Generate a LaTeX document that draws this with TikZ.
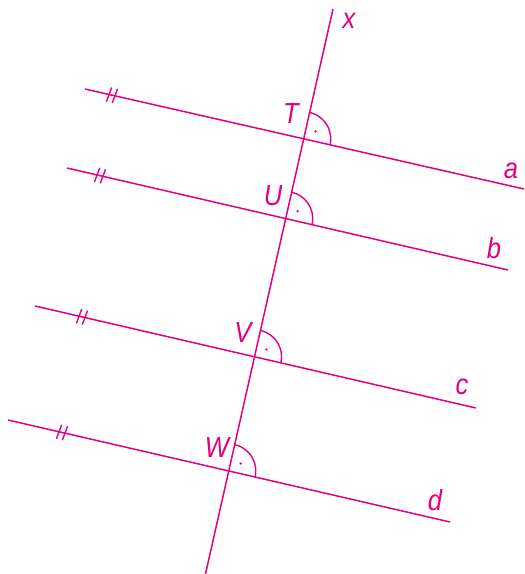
\documentclass[tikz,border=0pt]{standalone}
\usepackage{fontspec}
\setmainfont{Liberation Sans}[FakeStretch=0.88]
\definecolor{mag}{HTML}{E5007D}
\begin{document}
\begin{tikzpicture}[x=1pt,y=1pt,line width=1.5pt,draw=mag,
  lbl/.style={text=mag,font=\fontsize{29}{32}\selectfont\itshape,inner sep=0pt,anchor=base},
  tick/.style={line width=1.4pt},
  ang/.style={line width=1.4pt}]
\useasboundingbox (0,0) rectangle (525,-574);
% lines
\coordinate (x1) at (333,-9);
\coordinate (x2) at (205.5,-574);
\coordinate (a1) at (85,-89);   \coordinate (a2) at (524,-189);
\coordinate (b1) at (67,-168);  \coordinate (b2) at (508,-270);
\coordinate (c1) at (35,-306);  \coordinate (c2) at (476,-408);
\coordinate (d1) at (8,-420);   \coordinate (d2) at (450,-522);
\draw (x1) -- (x2);
\draw (a1) -- (a2);
\draw (b1) -- (b2);
\draw (c1) -- (c2);
\draw (d1) -- (d2);
\coordinate (T) at (intersection of x1--x2 and a1--a2);
\coordinate (U) at (intersection of x1--x2 and b1--b2);
\coordinate (V) at (intersection of x1--x2 and c1--c2);
\coordinate (W) at (intersection of x1--x2 and d1--d2);
% right-angle marks
\foreach \P in {T,U,V,W}{
  \draw[ang] (\P) ++(-13:27) arc[start angle=-13,end angle=77.3,radius=27];
  \fill[mag] (\P) ++(32:14) circle[radius=1.3];
}
% parallel ticks
\foreach \qx/\qy in {112/-95.2,100/-175.6,82/-316.9,62/-432.5}{
  \begin{scope}[shift={(\qx,\qy)},rotate=-13]
    \draw[tick] (-4,-7.5) -- (-2,7.5);
    \draw[tick] (2,-7.5) -- (4,7.5);
  \end{scope}
}
% labels
\node[lbl] (lT) at (291,-123) {T};
\node[lbl] (lU) at (273,-205) {U};
\node[lbl] (lV) at (243,-342) {V};
\node[lbl] (lW) at (217,-457) {W};
\node[lbl] (lx) at (349,-28) {x};
\node[lbl] (la) at (511,-178) {a};
\node[lbl] (lb) at (494,-258) {b};
\node[lbl] (lc) at (462,-394) {c};
\node[lbl] (ld) at (435,-510) {d};
\end{tikzpicture}
\end{document}
